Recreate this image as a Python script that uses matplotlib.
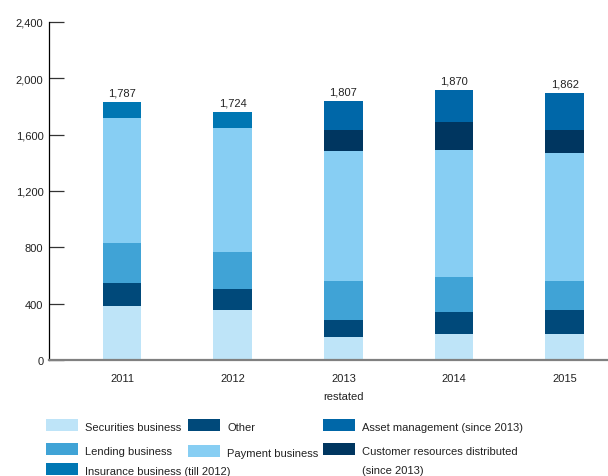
import matplotlib
matplotlib.use("Agg")
from matplotlib import pyplot as plt
from matplotlib.patches import Rectangle

plt.rcParams['font.family'] = ['Liberation Sans', 'DejaVu Sans']
plt.rcParams['font.size'] = 8

years = ['2011', '2012', '2013\nrestated', '2014', '2015']
totals = [1787, 1724, 1807, 1870, 1862]

# stacked from the bottom up
securities = [383, 355, 163, 185, 185]
other      = [163, 149, 121, 156, 170]
lending    = [284, 263, 277, 249, 206]
payment    = [888, 880, 923, 902, 909]
insurance  = [114, 114, 0, 0, 0]
customer   = [0, 0, 149, 199, 163]
asset_mgmt = [0, 0, 206, 227, 263]

series = [
    ('Securities business', securities, '#bee4f8'),
    ('Other', other, '#00497a'),
    ('Lending business', lending, '#40a3d6'),
    ('Payment business', payment, '#87cef3'),
    ('Insurance business (till 2012)', insurance, '#0077b3'),
    ('Customer resources distributed\n(since 2013)', customer, '#003660'),
    ('Asset management (since 2013)', asset_mgmt, '#0067a8'),
]

W, H = 608, 477
fig = plt.figure(figsize=(W / 100, H / 100), dpi=100)
ax = fig.add_axes([49 / W, 1 - 361 / H, (608 - 49) / W, (361 - 23) / H])

xs = list(range(len(years)))
bottom = [0] * len(years)
for name, vals, col in series:
    ax.bar(xs, vals, bottom=bottom, width=0.35, color=col, linewidth=0, zorder=2)
    bottom = [b + v for b, v in zip(bottom, vals)]

for x, b, t in zip(xs, bottom, totals):
    ax.annotate(f'{t:,}', xy=(x, b), xytext=(0, 3), textcoords='offset points',
                ha='center', va='bottom', color='#222222')

ax.set_xlim(-0.659, 4.39)
ax.set_ylim(0, 2400)
ax.set_yticks([0, 400, 800, 1200, 1600, 2000, 2400])
ax.set_yticklabels([f'{v:,}' for v in ax.get_yticks().astype(int)])
ax.set_xticks(xs)
ax.set_xticklabels(years, linespacing=1.95)

for s in ['top', 'right']:
    ax.spines[s].set_visible(False)
ax.spines['left'].set_color('black')
ax.spines['left'].set_linewidth(0.9)
ax.spines['bottom'].set_color('#808080')
ax.spines['bottom'].set_linewidth(1.6)
ax.spines['bottom'].set_zorder(3)
ax.tick_params(axis='y', direction='in', length=11, width=0.9, color='#333333',
               pad=4, labelcolor='#222222')
ax.tick_params(axis='x', length=0, pad=9.6, labelcolor='#222222')

# legend drawn in figure pixels
legend_pos = {
    'Securities business': (46, 420),
    'Lending business': (46, 444),
    'Insurance business (till 2012)': (46, 464),
    'Other': (188, 420),
    'Payment business': (188, 446),
    'Asset management (since 2013)': (323, 420),
    'Customer resources distributed\n(since 2013)': (323, 444),
}
for name, vals, col in series:
    px, py = legend_pos[name]
    fig.add_artist(Rectangle((px / W, 1 - (py + 12) / H), 32 / W, 12 / H,
                             transform=fig.transFigure, color=col, lw=0))
    fig.text((px + 39) / W, 1 - (py + 3) / H, name, ha='left', va='top',
             color='#222222', linespacing=2.15)

fig.savefig('out.png', dpi=100)
